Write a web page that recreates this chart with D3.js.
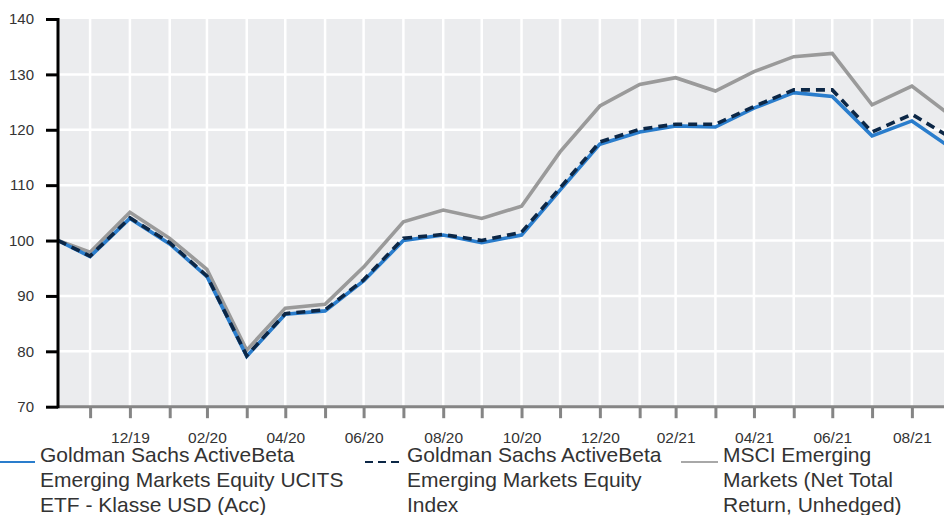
<!DOCTYPE html>
<html>
<head>
<meta charset="utf-8">
<script src="https://cdn.jsdelivr.net/npm/d3@7"></script>
<style>
  html, body { margin: 0; padding: 0; background: #fff; }
  svg { display: block; font-family: "Liberation Sans", Arial, sans-serif; }
</style>
</head>
<body>
<svg id="chart" width="944" height="515"></svg>
<script>
// data (indexed to 100)
const dates = [
  '2019-11-05', '2019-11-30', '2019-12-31', '2020-01-31', '2020-02-29', '2020-03-31',
  '2020-04-30', '2020-05-31', '2020-06-30', '2020-07-31', '2020-08-31', '2020-09-30',
  '2020-10-31', '2020-11-30', '2020-12-31', '2021-01-31', '2021-02-28', '2021-03-31',
  '2021-04-30', '2021-05-31', '2021-06-30', '2021-07-31', '2021-08-31', '2021-09-30'
];
const etf = [
  100, 97.1, 104.0, 99.4, 93.5, 79.1, 86.7, 87.3, 92.7, 100.0, 101.0, 99.6,
  101.0, 109.1, 117.4, 119.6, 120.7, 120.5, 123.9, 126.7, 126.0, 118.9, 121.6, 116.8
];
const benchIndex = [
  100, 97.2, 104.1, 99.6, 93.6, 79.2, 86.8, 87.5, 92.9, 100.4, 101.1, 100.0,
  101.5, 109.5, 117.8, 120.1, 121.0, 121.0, 124.2, 127.2, 127.2, 119.6, 122.8, 118.6
];
const msci = [
  100, 97.9, 105.1, 100.4, 94.8, 80.2, 87.8, 88.5, 95.2, 103.4, 105.5, 104.0,
  106.2, 116.0, 124.3, 128.2, 129.4, 127.0, 130.5, 133.2, 133.8, 124.5, 127.9, 122.6
];
const yTicks = [70, 80, 90, 100, 110, 120, 130, 140];
const tickLabels = ['12/19', '02/20', '04/20', '06/20', '08/20', '10/20', '12/20',
  '02/21', '04/21', '06/21', '08/21'];
const legendLabels = [
  ['Goldman Sachs ActiveBeta', 'Emerging Markets Equity UCITS', 'ETF - Klasse USD (Acc)'],
  ['Goldman Sachs ActiveBeta', 'Emerging Markets Equity', 'Index'],
  ['MSCI Emerging', 'Markets (Net Total', 'Return, Unhedged)']
];

const parse = d3.timeParse('%Y-%m-%d');
const fmt = d3.timeFormat('%m/%y');
const xDates = dates.map(parse);

const mLeft = 58, mTop = 19, mBottom = 406.7, mRight = 944;
const svg = d3.select('#chart');

const x = d3.scaleTime()
  .domain([xDates[0], xDates[xDates.length - 1]])
  .range([mLeft, 950.4]);
const y = d3.scaleLinear().domain([70, 140]).range([mBottom, mTop]);

// plot background
svg.append('rect')
  .attr('x', mLeft).attr('y', mTop)
  .attr('width', mRight - mLeft).attr('height', mBottom - mTop)
  .attr('fill', '#ebecee');

svg.append('clipPath').attr('id', 'clip')
  .append('rect')
  .attr('x', mLeft).attr('y', 0)
  .attr('width', mRight - mLeft).attr('height', mBottom);

const monthEnds = xDates.slice(1);

// grid
const grid = svg.append('g').attr('clip-path', 'url(#clip)');
grid.selectAll('line.v')
  .data(monthEnds)
  .join('line')
  .attr('class', 'v')
  .attr('x1', d => x(d)).attr('x2', d => x(d))
  .attr('y1', mTop).attr('y2', mBottom)
  .attr('stroke', '#fff').attr('stroke-width', 2.5);
grid.selectAll('line.h')
  .data(yTicks.slice(1, -1))
  .join('line')
  .attr('class', 'h')
  .attr('x1', mLeft).attr('x2', mRight)
  .attr('y1', d => y(d)).attr('y2', d => y(d))
  .attr('stroke', '#fff').attr('stroke-width', 2.5);

// series
const line = d3.line()
  .x((d, i) => x(xDates[i]))
  .y(d => y(d));

const series = [
  {values: msci, color: '#9a9a9a', dash: null},
  {values: etf, color: '#2a7dcc', dash: null},
  {values: benchIndex, color: '#0c2746', dash: '9,6'}
];
const plot = svg.append('g').attr('clip-path', 'url(#clip)');
series.forEach(s => {
  plot.append('path')
    .datum(s.values)
    .attr('d', line)
    .attr('fill', 'none')
    .attr('stroke', s.color)
    .attr('stroke-width', 3.6)
    .attr('stroke-linejoin', 'miter')
    .attr('stroke-dasharray', s.dash);
});

// x axis
const xAxis = svg.append('g')
  .attr('transform', `translate(0,${mBottom})`)
  .call(d3.axisBottom(x)
    .tickValues(monthEnds)
    .tickSize(11.5)
    .tickPadding(13.5)
    .tickFormat(d => tickLabels.includes(fmt(d)) ? fmt(d) : ''));
xAxis.select('.domain').remove();
xAxis.selectAll('.tick line').attr('stroke', '#858585').attr('stroke-width', 3);
xAxis.selectAll('.tick text')
  .attr('fill', '#333').attr('font-size', '15.5px')
  .attr('font-family', '"Liberation Sans", Arial, sans-serif');
svg.append('line')
  .attr('x1', mLeft).attr('x2', mRight)
  .attr('y1', mBottom).attr('y2', mBottom)
  .attr('stroke', '#858585').attr('stroke-width', 3);

// y axis
const yAxis = svg.append('g')
  .attr('transform', `translate(${mLeft},0)`)
  .call(d3.axisLeft(y)
    .tickValues(yTicks)
    .tickSize(12)
    .tickPadding(12));
yAxis.select('.domain').remove();
yAxis.selectAll('.tick line').attr('stroke', '#000').attr('stroke-width', 3);
yAxis.selectAll('.tick text')
  .attr('fill', '#333').attr('font-size', '15px')
  .attr('font-family', '"Liberation Sans", Arial, sans-serif');
svg.append('line')
  .attr('x1', mLeft).attr('x2', mLeft)
  .attr('y1', mTop - 1).attr('y2', mBottom + 1.5)
  .attr('stroke', '#000').attr('stroke-width', 3);

// legend
const legendPos = [
  {sx: 0, sw: 35, tx: 40},
  {sx: 365, sw: 35, tx: 407},
  {sx: 681, sw: 37, tx: 723}
];
const legendSeries = [series[1], series[2], series[0]];
const legend = svg.append('g');
legendSeries.forEach((s, i) => {
  const p = legendPos[i];
  legend.append('line')
    .attr('x1', p.sx).attr('x2', p.sx + p.sw)
    .attr('y1', 462).attr('y2', 462)
    .attr('stroke', i === 2 ? '#a8a8a8' : s.color)
    .attr('stroke-width', 2.2)
    .attr('stroke-dasharray', i === 1 ? '8,5' : null);
  legend.append('text')
    .attr('x', p.tx)
    .attr('y', 462)
    .attr('fill', '#333')
    .attr('font-size', '21px')
    .selectAll('tspan')
    .data(legendLabels[i])
    .join('tspan')
    .attr('x', p.tx)
    .attr('dy', (d, j) => j === 0 ? 0 : 25)
    .text(d => d);
});
</script>
</body>
</html>
